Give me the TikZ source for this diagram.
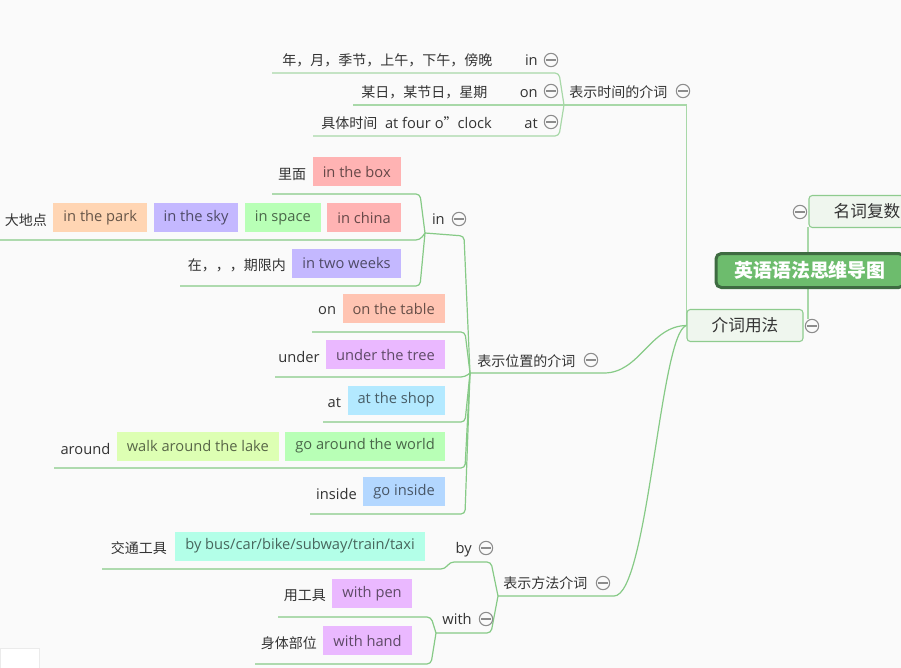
\documentclass[tikz,border=0pt]{standalone}
\usepackage{fontspec}
\setmainfont{Open Sans}
\newfontfamily\cjk{Noto Sans CJK SC}
\newcommand\zh{\cjk\fontsize{10.5}{12}\selectfont}
\usepackage{xcolor}
\usetikzlibrary{positioning}
\definecolor{bg}{HTML}{FAFAFA}
\definecolor{linkc}{HTML}{86CA86}
\definecolor{linkl}{HTML}{A8D8A8}
\definecolor{foldc}{HTML}{8C8C8C}
\definecolor{txt}{HTML}{333333}
\definecolor{rootf}{HTML}{6DBC6D}
\definecolor{rootd}{HTML}{3E6B41}
\definecolor{subf}{HTML}{EFF6EE}
\definecolor{subd}{HTML}{8ECB8E}
\definecolor{cRed}{HTML}{FFB3B3}
\definecolor{cPeach}{HTML}{FFD5B3}
\definecolor{cLav}{HTML}{C4B8FF}
\definecolor{cGreen}{HTML}{B8FFB6}
\definecolor{cSalmon}{HTML}{FFC4B2}
\definecolor{cViolet}{HTML}{EAB8FF}
\definecolor{cCyan}{HTML}{B3E9FF}
\definecolor{cLime}{HTML}{DDFFB3}
\definecolor{cBlue}{HTML}{B3D7FF}
\definecolor{cMint}{HTML}{B3FFE8}
\pgfdeclarelayer{back}
\pgfsetlayers{back,main}

\begin{document}
\begin{tikzpicture}[
  x=0.75pt, y=-0.75pt,
  node distance=4.5pt,
  font=\fontsize{11}{13}\selectfont,
  lbl/.style={inner sep=0pt, text=txt},
  side/.style={inner sep=0pt, text=txt, yshift=-1.9pt},
  tag/.style={fill=#1, text=#1!40!black, inner xsep=7.5pt, inner ysep=0pt, minimum height=21.75pt},
  root/.style={fill=rootf, draw=rootd, line width=2.25pt, rounded corners=4pt, text=white,
    font=\fontsize{14.2}{16}\selectfont\cjk\bfseries, minimum width=141pt, minimum height=25.5pt},
  sub/.style={fill=subf, draw=subd, line width=0.8pt, rounded corners=2.5pt, text=txt,
    font=\fontsize{12.5}{14}\selectfont\cjk, minimum width=87pt, minimum height=24pt},
  link/.style={draw=linkc, line width=0.9pt, rounded corners=3pt},
  foldbtn/.pic={
    \draw[foldc, fill=bg, line width=0.8pt] (0,0) circle (5pt);
    \draw[foldc, line width=0.8pt] (-3.5pt,0) -- (3.5pt,0);
  }
]
  \useasboundingbox (0,0) rectangle (901,668);
  \clip (0,0) rectangle (901,668);
  \begin{pgfonlayer}{back}
    \fill[bg] (0,0) rectangle (901,668);
  \end{pgfonlayer}

  \node[root] (root) at (810,270.5) {英语语法思维导图};
  \node[sub] (noun) at (867,211.5) {名词复数};
  \node[sub] (prep) at (745,325.5) {介词用法};
  \pic at (800,212) {foldbtn};
  \pic at (812,326) {foldbtn};

  \node[lbl, anchor=west] (time) at (569,92) {\zh 表示时间的介词};
  \pic at (683,91) {foldbtn};
  \node[lbl, anchor=base east] (tin) at (538,65) {in};
  \node[lbl, left=24pt of tin.base west, anchor=base east] (tinx) {\zh 年，月，季节，上午，下午，傍晚};
  \node[lbl, anchor=base east] (ton) at (538,97) {on};
  \node[lbl, left=24pt of ton.base west, anchor=base east] (tonx) {\zh 某日，某节日，星期};
  \node[lbl, anchor=base east] (tat) at (538,128) {at};
  \node[lbl, left=24pt of tat.base west, anchor=base east] (tatx) {{\zh 具体时间}\ \ at four o{\zh ”}clock};
  \pic at (551,60) {foldbtn};
  \pic at (551,91) {foldbtn};
  \pic at (551,122) {foldbtn};

  \node[lbl, anchor=west] (place) at (477,361) {\zh 表示位置的介词};
  \pic at (591,360) {foldbtn};
  \node[lbl, anchor=base east] (pin) at (445,224) {in};
  \pic at (459,219) {foldbtn};
  \node[tag=cRed, anchor=east] (box) at (401,171.5) {in the box};
  \node[side, left=of box] (inner) {\zh 里面};
  \node[tag=cRed, anchor=east] (china) at (401,217.5) {in china};
  \node[tag=cGreen, left=of china] (space) {in space};
  \node[tag=cLav, left=of space] (sky) {in the sky};
  \node[tag=cPeach, left=of sky] (park) {in the park};
  \node[side, left=of park] (bigp) {\zh 大地点};
  \node[tag=cLav, anchor=east] (weeks) at (401,263) {in two weeks};
  \node[side, left=of weeks] (limit) {\zh 在，，，期限内};
  \node[tag=cSalmon, anchor=east] (table) at (445,308.5) {on the table};
  \node[side, left=of table] (pon) {on};
  \node[tag=cViolet, anchor=east] (tree) at (445,354.5) {under the tree};
  \node[side, left=of tree] (under) {under};
  \node[tag=cCyan, anchor=east] (shop) at (445,400) {at the shop};
  \node[side, left=of shop] (pat) {at};
  \node[tag=cGreen, anchor=east] (world) at (445,446) {go around the world};
  \node[tag=cLime, left=of world] (lake) {walk around the lake};
  \node[side, left=of lake] (around) {around};
  \node[tag=cBlue, anchor=east] (goin) at (445,491.5) {go inside};
  \node[side, left=of goin] (inside) {inside};

  \node[lbl, anchor=west] (meth) at (503,583) {\zh 表示方法介词};
  \pic at (603,583) {foldbtn};
  \node[lbl, anchor=base east] (by) at (472,553) {by};
  \pic at (486,548) {foldbtn};
  \node[tag=cMint, anchor=east] (bus) at (425,546) {by bus/car/bike/subway/train/taxi};
  \node[side, left=6pt of bus] (traffic) {\zh 交通工具};
  \node[lbl, anchor=base east] (with) at (472,624) {with};
  \pic at (486,619) {foldbtn};
  \node[tag=cViolet, anchor=east] (pen) at (412,593.5) {with pen};
  \node[side, left=of pen] (tool) {\zh 用工具};
  \node[tag=cViolet, anchor=east] (hand) at (412,640.5) {with hand};
  \node[side, left=of hand] (body) {\zh 身体部位};

  \draw[black!8, fill=white] (0,648) rectangle (39,670);

  \coordinate (rt) at (808,227);
  \coordinate (rb) at (808,319);
  \coordinate (tj) at (564,105);
  \coordinate (tinL) at (272,73);
  \coordinate (tonL) at (353,105);
  \coordinate (tatL) at (313,136);
  \coordinate (pj) at (470,373);
  \coordinate (pij) at (425,233);
  \coordinate (boxL) at (272,194);
  \coordinate (bigL) at (0,240);
  \coordinate (limL) at (180,286);
  \coordinate (onL) at (312,332);
  \coordinate (undL) at (275,377);
  \coordinate (atL) at (323,422);
  \coordinate (aroL) at (54,468);
  \coordinate (insL) at (310,514);
  \coordinate (mj) at (498,596);
  \coordinate (busL) at (102,569);
  \coordinate (wj) at (436,633);
  \coordinate (penL) at (278,617);
  \coordinate (handL) at (255,664);

  \begin{pgfonlayer}{back}
    \draw[link, draw=linkl] (rt) -- (rb);
    \draw[link, draw=linkl, sharp corners] (prep.west) |- (tj);
    \draw[link, draw=linkl] (tj) -- (559,73) -- (tinL);
    \draw[link, draw=linkl] (tj) -- (tonL);
    \draw[link, draw=linkl] (tj) -- (559,136) -- (tatL);
    \draw[link] (prep.west) .. controls (650,326) and (640,373) .. (600,373) -- (pj);
    \draw[link] (pj) -- (464,236) -- (pij);
    \draw[link] (pij) -- (420,194) -- (boxL);
    \draw[link] (pij) -- (420,240) -- (bigL);
    \draw[link] (pij) -- (420,286) -- (limL);
    \draw[link] (pj) -- (465,332) -- (onL);
    \draw[link] (pj) -- (465,377) -- (undL);
    \draw[link] (pj) -- (465,422) -- (atL);
    \draw[link] (pj) -- (465,468) -- (aroL);
    \draw[link] (pj) -- (465,514) -- (insL);
    \draw[link] (prep.west) .. controls (660,332) and (648,596) .. (610,596) -- (mj);
    \draw[link] (mj) -- (491,562) -- (450,562) -- (445,569) -- (busL);
    \draw[link] (mj) -- (491,633) -- (wj);
    \draw[link] (wj) -- (431,617) -- (penL);
    \draw[link] (wj) -- (431,664) -- (handL);
  \end{pgfonlayer}
\end{tikzpicture}
\end{document}
